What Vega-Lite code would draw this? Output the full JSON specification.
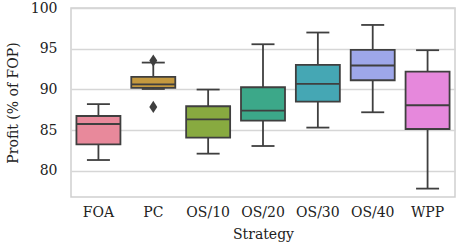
{
  "$schema": "https://vega.github.io/schema/vega-lite/v6.json",
  "width": 384,
  "height": 189,
  "autosize": "none",
  "padding": {"left": 71, "top": 8, "right": 5, "bottom": 55},
  "config": {
    "font": "DejaVu Serif",
    "view": {"stroke": "#cfcfcf", "strokeWidth": 1.5},
    "axis": {
      "labelFont": "DejaVu Serif",
      "titleFont": "DejaVu Serif",
      "labelFontSize": 14,
      "titleFontSize": 14,
      "titleFontWeight": "normal",
      "labelColor": "#222222",
      "titleColor": "#222222",
      "domain": false,
      "ticks": false
    }
  },
  "datasets": {
    "boxes": [
      {"Strategy": "FOA", "lo": 81.34, "q1": 83.27, "med": 85.76, "q3": 86.74, "hi": 88.2},
      {"Strategy": "PC", "lo": 90.06, "q1": 90.2, "med": 90.62, "q3": 91.54, "hi": 93.3},
      {"Strategy": "OS/10", "lo": 82.12, "q1": 84.09, "med": 86.34, "q3": 87.94, "hi": 89.99},
      {"Strategy": "OS/20", "lo": 83.06, "q1": 86.18, "med": 87.41, "q3": 90.27, "hi": 95.55},
      {"Strategy": "OS/30", "lo": 85.32, "q1": 88.51, "med": 90.68, "q3": 93.01, "hi": 96.99},
      {"Strategy": "OS/40", "lo": 87.2, "q1": 91.13, "med": 92.94, "q3": 94.85, "hi": 97.92},
      {"Strategy": "WPP", "lo": 77.83, "q1": 85.15, "med": 88.06, "q3": 92.2, "hi": 94.82}
    ],
    "outliers": [
      {"Strategy": "PC", "value": 93.55},
      {"Strategy": "PC", "value": 87.85}
    ]
  },
  "encoding": {
    "x": {
      "field": "Strategy",
      "type": "nominal",
      "sort": ["FOA", "PC", "OS/10", "OS/20", "OS/30", "OS/40", "WPP"],
      "scale": {"paddingInner": 0, "paddingOuter": 0},
      "axis": {"labelAngle": 0, "labelPadding": 8, "title": "Strategy", "titlePadding": 8, "grid": false}
    }
  },
  "layer": [
    {
      "data": {"name": "boxes"},
      "mark": {"type": "rule", "color": "#3f3f3f", "strokeWidth": 1.8},
      "encoding": {
        "y": {
          "field": "lo",
          "type": "quantitative",
          "scale": {"domain": [76.8, 100], "nice": false, "zero": false},
          "axis": {
            "values": [80, 85, 90, 95, 100],
            "title": "Profit (% of FOP)",
            "labelPadding": 14,
            "titlePadding": 10,
            "gridColor": "#d6d6d6",
            "gridWidth": 1.5
          }
        },
        "y2": {"field": "hi"}
      }
    },
    {
      "data": {"name": "boxes"},
      "mark": {"type": "bar", "size": 44, "stroke": "#3f3f3f", "strokeWidth": 1.8},
      "encoding": {
        "y": {"field": "q1", "type": "quantitative"},
        "y2": {"field": "q3"},
        "color": {
          "field": "Strategy",
          "type": "nominal",
          "legend": null,
          "scale": {
            "domain": ["FOA", "PC", "OS/10", "OS/20", "OS/30", "OS/40", "WPP"],
            "range": ["#e8899b", "#c4993f", "#88aa40", "#3ca889", "#45a7b4", "#9ea7ea", "#e688dc"]
          }
        }
      }
    },
    {
      "data": {"name": "boxes"},
      "mark": {"type": "tick", "size": 44, "thickness": 1.8, "color": "#3f3f3f", "opacity": 1},
      "encoding": {"y": {"field": "med", "type": "quantitative"}}
    },
    {
      "data": {"name": "boxes"},
      "mark": {"type": "tick", "size": 23, "thickness": 1.8, "color": "#3f3f3f", "opacity": 1},
      "encoding": {"y": {"field": "lo", "type": "quantitative"}}
    },
    {
      "data": {"name": "boxes"},
      "mark": {"type": "tick", "size": 23, "thickness": 1.8, "color": "#3f3f3f", "opacity": 1},
      "encoding": {"y": {"field": "hi", "type": "quantitative"}}
    },
    {
      "data": {"name": "outliers"},
      "mark": {
        "type": "point",
        "shape": "M0,-1L0.65,0L0,1L-0.65,0Z",
        "size": 150,
        "filled": true,
        "color": "#3f3f3f",
        "opacity": 1
      },
      "encoding": {"y": {"field": "value", "type": "quantitative"}}
    }
  ]
}
